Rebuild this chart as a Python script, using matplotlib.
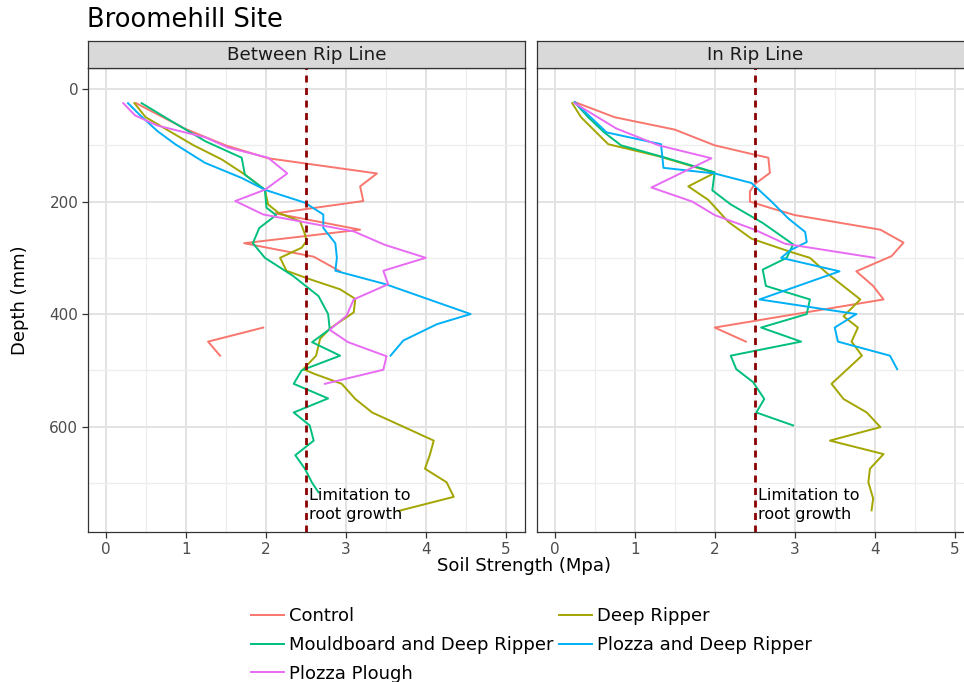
import numpy as np
import matplotlib
matplotlib.use("Agg")
import matplotlib.pyplot as plt
from matplotlib.lines import Line2D

# treatment names and ggplot default hue colours
treatments = ["Control", "Deep Ripper", "Mouldboard and Deep Ripper",
              "Plozza and Deep Ripper", "Plozza Plough"]
colours = ["#F8766D", "#A3A500", "#00BF7D", "#00B0F6", "#E76BF3"]

# ---- Between Rip Line (depth in mm, soil strength in MPa) ----
btw_control_depth = [25, 71, 100, 123, 150, 173, 199, 221, 250, 274, 298, 324, 375, 424, 449, 474]
btw_control_mpa = [0.38, 1.0, 1.5, 2.03, 3.39, 3.18, 3.22, 2.12, 3.18, 1.73, 2.6, 2.93, np.nan, 1.97, 1.28, 1.43]

btw_deep_depth = [25, 50, 75, 100, 125, 150, 179, 205, 220, 235, 258, 270, 282, 300, 323, 338, 356, 373,
                  397, 426, 444, 474, 498, 507, 524, 551, 575, 625, 651, 675, 699, 725, 750]
btw_deep_mpa = [0.36, 0.5, 0.8, 1.1, 1.45, 1.72, 1.99, 2.03, 2.16, 2.43, 2.49, 2.51, 2.45, 2.18, 2.26, 2.55,
                2.93, 3.12, 3.1, 2.8, 2.68, 2.63, 2.47, 2.62, 2.95, 3.12, 3.33, 4.1, 4.05, 3.99, 4.26, 4.35, 3.66]

btw_mould_depth = [25, 55, 93, 122, 152, 179, 211, 224, 247, 274, 300, 332, 368, 400, 427, 450, 474, 500,
                   524, 550, 575, 598, 625, 651, 675, 700, 717]
btw_mould_mpa = [0.45, 0.8, 1.25, 1.7, 1.74, 1.99, 2.01, 2.13, 1.92, 1.84, 1.99, 2.34, 2.66, 2.78, 2.8, 2.58,
                 2.93, 2.45, 2.35, 2.78, 2.35, 2.55, 2.6, 2.37, 2.49, 2.58, 2.66]

btw_plozdr_depth = [25, 45, 75, 98, 131, 158, 179, 202, 223, 247, 274, 300, 323, 347, 400, 418, 447, 474]
btw_plozdr_mpa = [0.28, 0.42, 0.65, 0.87, 1.24, 1.7, 1.99, 2.49, 2.72, 2.72, 2.87, 2.89, 2.87, 3.5, 4.56,
                  4.14, 3.72, 3.56]

btw_plough_depth = [25, 47, 65, 86, 104, 122, 150, 179, 199, 223, 253, 277, 300, 323, 347, 374, 403, 428,
                    450, 475, 499, 524]
btw_plough_mpa = [0.22, 0.37, 0.65, 1.25, 1.53, 2.03, 2.27, 1.99, 1.62, 1.97, 3.1, 3.49, 4.0, 3.47, 3.53,
                  3.1, 3.01, 2.8, 3.03, 3.51, 3.47, 2.74]

# ---- In Rip Line ----
in_control_depth = [23, 50, 72, 100, 116, 122, 149, 169, 182, 200, 212, 224, 250, 273, 297, 324, 350, 374, 424, 449]
in_control_mpa = [0.25, 0.75, 1.5, 2.0, 2.48, 2.67, 2.69, 2.5, 2.44, 2.44, 2.71, 3.0, 4.07, 4.36, 4.21, 3.77,
                  3.98, 4.11, 2.0, 2.39]

in_deep_depth = [25, 50, 98, 119, 149, 173, 197, 236, 266, 290, 300, 327, 374, 404, 424, 449, 474, 524, 551,
                 575, 601, 625, 649, 675, 699, 728, 749]
in_deep_mpa = [0.22, 0.33, 0.67, 1.29, 2.0, 1.67, 1.92, 2.17, 2.46, 2.96, 3.19, 3.4, 3.82, 3.61, 3.79, 3.71,
               3.84, 3.46, 3.61, 3.9, 4.07, 3.44, 4.11, 3.94, 3.92, 3.98, 3.96]

in_mould_depth = [25, 50, 77, 100, 121, 148, 180, 205, 238, 276, 300, 321, 350, 374, 400, 424, 449, 474, 498,
                  521, 551, 575, 598]
in_mould_mpa = [0.26, 0.42, 0.62, 0.83, 1.36, 2.0, 1.97, 2.2, 2.6, 2.98, 2.9, 2.6, 2.64, 3.19, 3.15, 2.58,
                3.08, 2.2, 2.27, 2.48, 2.62, 2.52, 2.98]

in_plozdr_depth = [23, 77, 98, 140, 150, 167, 200, 230, 254, 272, 286, 300, 324, 374, 400, 424, 449, 474, 498]
in_plozdr_mpa = [0.25, 0.65, 1.33, 1.36, 2.0, 2.46, 2.71, 2.92, 3.13, 3.15, 2.95, 2.83, 3.56, 2.56, 3.77, 3.5,
                 3.54, 4.19, 4.28]

in_plough_depth = [25, 70, 100, 123, 175, 200, 224, 250, 275, 300]
in_plough_mpa = [0.25, 0.77, 1.3, 1.96, 1.21, 1.72, 2.0, 2.5, 2.88, 4.0]

panels = ["Between Rip Line", "In Rip Line"]
panel_data = [
    [(btw_control_depth, btw_control_mpa), (btw_deep_depth, btw_deep_mpa), (btw_mould_depth, btw_mould_mpa),
     (btw_plozdr_depth, btw_plozdr_mpa), (btw_plough_depth, btw_plough_mpa)],
    [(in_control_depth, in_control_mpa), (in_deep_depth, in_deep_mpa), (in_mould_depth, in_mould_mpa),
     (in_plozdr_depth, in_plozdr_mpa), (in_plough_depth, in_plough_mpa)],
]

limit_mpa = 2.5
x_ticks = [0, 1, 2, 3, 4, 5]
y_ticks = [0, 200, 400, 600]

W, H = 964, 682
fig = plt.figure(figsize=(W / 100, H / 100), dpi=100)
fig.patch.set_facecolor("white")

panel_lefts = [88, 537]
for i, name in enumerate(panels):
    left = panel_lefts[i]
    ax = fig.add_axes([left / W, 1 - 532 / H, 437 / W, 464 / H])
    strip = fig.add_axes([left / W, 1 - 68 / H, 437 / W, 27 / H])

    # strip header
    strip.set_facecolor("#D9D9D9")
    strip.set_xticks([])
    strip.set_yticks([])
    for sp in strip.spines.values():
        sp.set_color("#333333")
        sp.set_linewidth(0.9)
    strip.text(0.5, 0.5, name, ha="center", va="center", fontsize=13.2, color="#1A1A1A",
               transform=strip.transAxes)

    for (depth, mpa), col in zip(panel_data[i], colours):
        ax.plot(mpa, depth, color=col, lw=1.4, zorder=3)

    ax.axvline(limit_mpa, color="#8B0000", lw=2.0, ls=(0, (2.5, 2)), zorder=4)
    ax.text(2.54, 740, "Limitation to\nroot growth", ha="left", va="center", fontsize=11.5,
            color="black", linespacing=1.3, zorder=5)

    ax.set_xlim(-0.22, 5.24)
    ax.set_ylim(787.5, -37.5)
    ax.set_xticks(x_ticks)
    ax.set_xticks(np.arange(0.5, 5.5, 1.0), minor=True)
    ax.set_yticks(y_ticks)
    ax.set_yticks([100, 300, 500, 700], minor=True)
    ax.grid(True, which="major", color="#E3E3E3", lw=1.4, zorder=0)
    ax.grid(True, which="minor", color="#EDEDED", lw=0.9, zorder=0)
    ax.set_axisbelow(True)
    for sp in ax.spines.values():
        sp.set_color("#333333")
        sp.set_linewidth(0.9)
    ax.tick_params(axis="both", which="major", length=4, width=0.9, color="#333333",
                   labelsize=11, labelcolor="#4D4D4D", pad=3)
    ax.tick_params(which="minor", length=0)
    if i == 1:
        ax.tick_params(axis="y", which="major", length=0, labelleft=False)

fig.text(87 / W, 1 - 20 / H, "Broomehill Site", ha="left", va="center", fontsize=18.5, color="black")
fig.text(524 / W, 1 - 566 / H, "Soil Strength (Mpa)", ha="center", va="center", fontsize=13, color="black")
fig.text(20 / W, 1 - 300 / H, "Depth (mm)", ha="center", va="center", rotation=90, fontsize=13,
         color="black")

# legend: column-major fill so rows read Control/Deep Ripper, Mouldboard/Plozza DR, Plozza Plough
order = [0, 2, 4, 1, 3]
handles = [Line2D([0], [0], color=colours[k], lw=1.4) for k in order]
labels = [treatments[k] for k in order]
fig.legend(handles, labels, loc="upper left", bbox_to_anchor=(251 / W, 1 - 607 / H), ncol=2,
           frameon=False, fontsize=13, handlelength=1.85, handletextpad=0.25, columnspacing=0.3,
           labelspacing=0.6, borderaxespad=0, borderpad=0)

fig.savefig("out.png", dpi=100)
